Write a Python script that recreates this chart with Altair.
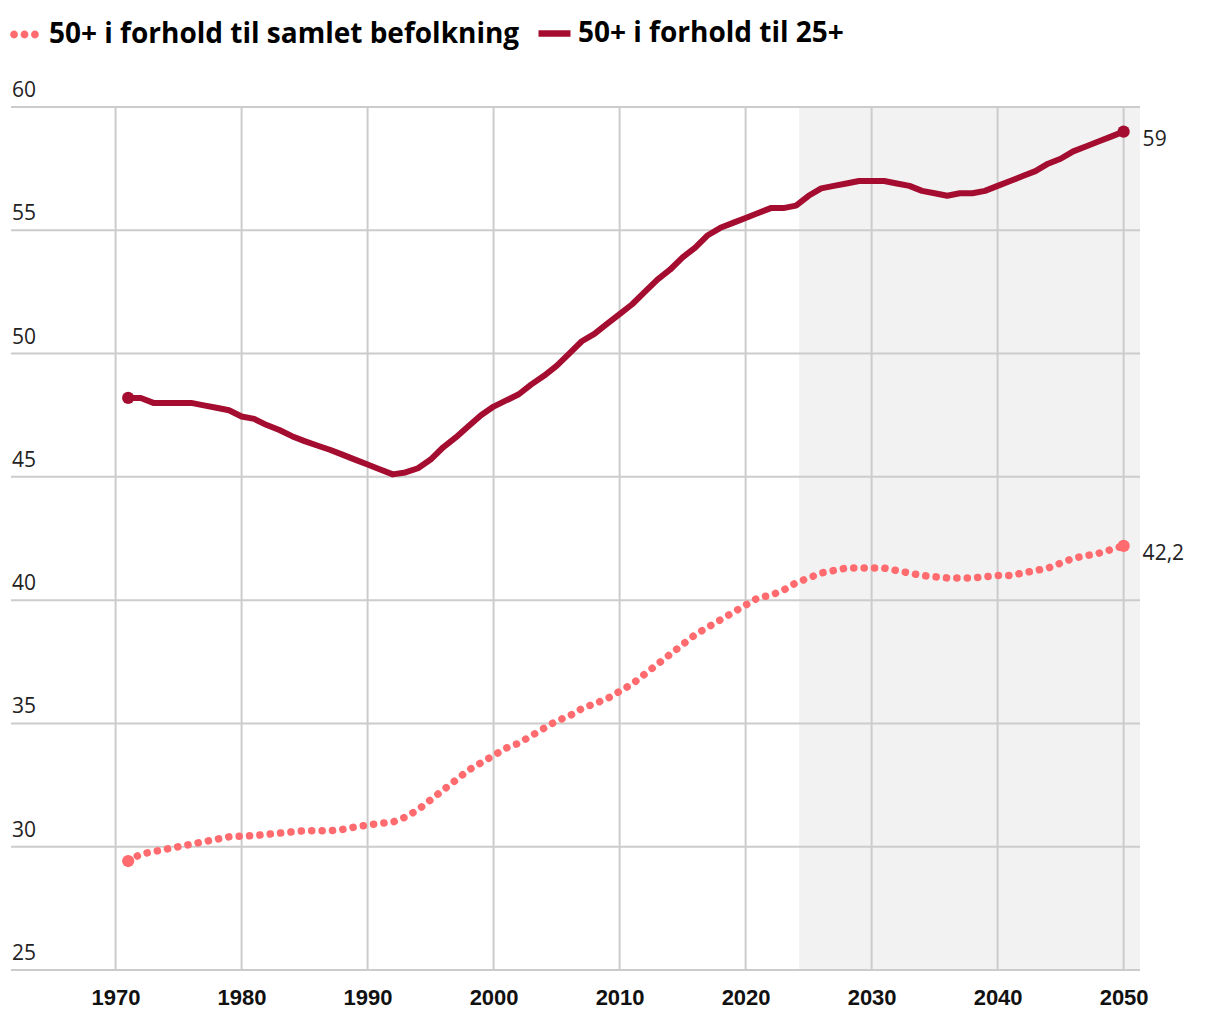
import altair as alt
import pandas as pd

# ---- data ----
years = list(range(1971, 2051))
share_total = [
    29.42, 29.7, 29.8, 29.9, 30.0, 30.1, 30.2, 30.3, 30.4, 30.43,
    30.45, 30.5, 30.55, 30.6, 30.65, 30.65, 30.65, 30.7, 30.8, 30.88,
    30.95, 31.0, 31.2, 31.5, 31.9, 32.3, 32.7, 33.1, 33.4, 33.7,
    34.0, 34.2, 34.5, 34.8, 35.1, 35.3, 35.6, 35.8, 36.0, 36.3,
    36.6, 37.0, 37.4, 37.8, 38.2, 38.6, 38.9, 39.2, 39.5, 39.8,
    40.1, 40.2, 40.4, 40.7, 40.9, 41.1, 41.2, 41.3, 41.3, 41.3,
    41.3, 41.2, 41.1, 41.0, 40.95, 40.9, 40.9, 40.9, 40.95, 41.0,
    41.0, 41.1, 41.2, 41.3, 41.5, 41.7, 41.8, 41.9, 42.05, 42.2,
]
share_25 = [
    48.2, 48.2, 48.0, 48.0, 48.0, 48.0, 47.9, 47.8, 47.7, 47.45,
    47.35, 47.1, 46.9, 46.65, 46.45, 46.27, 46.1, 45.9, 45.7, 45.5,
    45.3, 45.1, 45.18, 45.35, 45.7, 46.2, 46.6, 47.05, 47.5, 47.85,
    48.1, 48.35, 48.75, 49.1, 49.5, 50.0, 50.5, 50.8, 51.2, 51.6,
    52.0, 52.5, 53.0, 53.4, 53.9, 54.3, 54.8, 55.1, 55.3, 55.5,
    55.7, 55.9, 55.9, 56.0, 56.4, 56.7, 56.8, 56.9, 57.0, 57.0,
    57.0, 56.9, 56.8, 56.6, 56.5, 56.4, 56.5, 56.5, 56.6, 56.8,
    57.0, 57.2, 57.4, 57.7, 57.9, 58.2, 58.4, 58.6, 58.8, 59.0,
]
S1 = "50+ i forhold til samlet befolkning"
S2 = "50+ i forhold til 25+"
series = [S1, S2]
colors = ["#ff6b6e", "#a50d30"]
y_ticks = [25, 30, 35, 40, 45, 50, 55, 60]
x_ticks = [1970, 1980, 1990, 2000, 2010, 2020, 2030, 2040, 2050]
forecast_start = 2024.25
x_domain = [1961.7, 2051.3]
y_domain = [25, 60]

# ---- tables ----
df = pd.DataFrame(
    {"year": years * 2,
     "serie": [S1] * len(years) + [S2] * len(years),
     "value": share_total + share_25}
)
df["label"] = df["value"].map(lambda v: f"{v:g}".replace(".", ","))
ends = df[df["year"].isin([years[0], years[-1]])]
last = df[df["year"] == years[-1]]
shade = pd.DataFrame({"x": [forecast_start], "x2": [x_domain[1]], "y": [y_domain[0]], "y2": [y_domain[1]]})
yt = pd.DataFrame({"v": y_ticks})
xt = pd.DataFrame({"v": x_ticks})
leg1 = pd.DataFrame({"serie": [S1]})
leg2 = pd.DataFrame({"serie": [S2]})

W, H = 1129, 863
xs = alt.Scale(domain=x_domain, nice=False, zero=False)
ys = alt.Scale(domain=y_domain, nice=False, zero=False)
xaxis = alt.Axis(values=x_ticks, format="d", grid=False, domain=False, ticks=False,
                 labelFont="Liberation Sans", labelFontSize=22, labelFontWeight="bold",
                 labelColor="#111111", labelPadding=17, title=None)
cscale = alt.Scale(domain=series, range=colors)
GRID = "#cccccc"

shade_l = alt.Chart(shade).mark_rect(color="#f2f2f2").encode(
    x=alt.X("x:Q", scale=xs, axis=xaxis), x2="x2:Q",
    y=alt.Y("y:Q", scale=ys, axis=None), y2="y2:Q")

hgrid = alt.Chart(yt).mark_rule(color=GRID, strokeWidth=2).encode(
    y=alt.Y("v:Q", scale=ys, axis=None))
vgrid = alt.Chart(xt).mark_rule(color=GRID, strokeWidth=2).encode(
    x=alt.X("v:Q", scale=xs, axis=xaxis))

ylabels = alt.Chart(yt).mark_text(align="left", baseline="alphabetic", dy=-10,
                                  font="Open Sans", fontSize=21, color="#222222").encode(
    x=alt.value(1), y=alt.Y("v:Q", scale=ys, axis=None), text="v:Q")

line1 = alt.Chart(df).transform_filter(alt.datum.serie == S1).mark_line(
    strokeWidth=7.5, strokeDash=[0.1, 10.3], strokeCap="round").encode(
    x=alt.X("year:Q", scale=xs, axis=xaxis),
    y=alt.Y("value:Q", scale=ys, axis=None),
    color=alt.Color("serie:N", scale=cscale, legend=None))
line2 = alt.Chart(df).transform_filter(alt.datum.serie == S2).mark_line(
    strokeWidth=6, strokeCap="round", strokeJoin="round").encode(
    x=alt.X("year:Q", scale=xs, axis=xaxis),
    y=alt.Y("value:Q", scale=ys, axis=None),
    color=alt.Color("serie:N", scale=cscale, legend=None))

pts = alt.Chart(ends).mark_circle(size=150, opacity=1).encode(
    x=alt.X("year:Q", scale=xs, axis=xaxis),
    y=alt.Y("value:Q", scale=ys, axis=None),
    color=alt.Color("serie:N", scale=cscale, legend=None))

endlabels = alt.Chart(last).mark_text(align="left", baseline="middle", dx=19, dy=8,
                                      font="Open Sans", fontSize=21, color="#222222").encode(
    x=alt.X("year:Q", scale=xs, axis=xaxis),
    y=alt.Y("value:Q", scale=ys, axis=None),
    text="label:N")

def dots_path():
    r = 0.27
    parts = []
    for cx in (-0.72, 0.0, 0.72):
        parts.append(f"M{cx - r:.3f},0A{r},{r} 0 1,0 {cx + r:.3f},0A{r},{r} 0 1,0 {cx - r:.3f},0Z")
    return "".join(parts)

DOTS = dots_path()
DASH = "M-1,0H1"
legend_common = dict(orient="none", direction="horizontal", title=None,
                     labelFont="Open Sans", labelFontSize=28, labelFontWeight="bold",
                     labelColor="#000000", symbolOpacity=1, padding=0, labelLimit=1000)

legend_a = alt.Chart(leg1).mark_point(filled=True, clip=True, shape=DOTS).encode(
    x=alt.value(-3000), y=alt.value(-3000),
    fill=alt.Fill("serie:N", scale=alt.Scale(domain=[S1], range=[colors[0]]),
                  legend=alt.Legend(legendX=-1, legendY=-87, symbolType=DOTS, symbolSize=841,
                                    symbolStrokeWidth=0, labelOffset=10, **legend_common)))

legend_b = alt.Chart(leg2).mark_point(filled=False, clip=True, shape=DASH, strokeWidth=6.5).encode(
    x=alt.value(-3000), y=alt.value(-3000),
    stroke=alt.Stroke("serie:N", scale=alt.Scale(domain=[S2], range=[colors[1]]),
                      legend=alt.Legend(legendX=524, legendY=-93, symbolType=DASH, symbolSize=1024,
                                        symbolStrokeWidth=6.5, symbolFillColor="transparent",
                                        labelOffset=4, **legend_common)))

chart = alt.layer(shade_l, hgrid, vgrid, ylabels, line1, line2, pts, endlabels,
                  legend_a, legend_b).properties(
    width=W, height=H,
    autosize=alt.AutoSizeParams(type="none"),
    padding={"left": 3, "top": 99, "right": 60, "bottom": 40},
).configure_view(stroke=None).resolve_scale(fill="independent", stroke="independent")

chart.save("out.html", embed_options={"renderer": "svg", "actions": False})
